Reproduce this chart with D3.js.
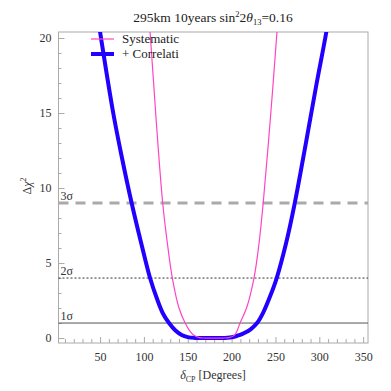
<!DOCTYPE html>
<html>
<head>
<meta charset="utf-8">
<script src="https://cdn.jsdelivr.net/npm/d3@7"></script>
<style>
  body { margin: 0; background: #fff; }
</style>
</head>
<body>
<script>
var width = 391;
var height = 391;
var margin = {top: 32, right: 23, bottom: 48, left: 58.5};

// values: [deltaCP (deg), delta chi^2]
var systematic = [
  [100, 25], [107, 20.4], [114, 14.5], [121.4, 9], [127, 6.2], [132.4, 4],
  [140, 2], [147, 1], [152, 0.5], [157, 0.18], [163, 0.03], [170, 0], [180, 0], [190, 0],
  [197, 0.03], [203, 0.18], [206, 0.45], [209.6, 1], [217, 2], [225.5, 4], [231, 6.2],
  [236, 9], [244, 14.5], [251.7, 20.4], [257, 25]
];
var correlated = [
  [38, 25], [50, 20.4], [65, 15], [75, 12], [86, 9], [97, 6.3], [107, 4],
  [115, 2.6], [122, 1.6], [128.6, 1], [136, 0.5], [143, 0.2], [150, 0.06], [158, 0.01],
  [170, 0], [180, 0], [192, 0.01], [202, 0.07], [209, 0.2], [215, 0.35], [222, 0.6],
  [229, 1], [236, 1.7], [244, 2.8], [251.4, 4], [262, 6.3], [272, 9], [285, 13.1],
  [297, 17], [308, 20.4], [318, 24]
];
var sigmaLevels = [1, 4, 9];
var sigmaLabels = ["1\u03c3", "2\u03c3", "3\u03c3"];
var xTicks = [50, 100, 150, 200, 250, 300, 350];
var yTicks = [0, 5, 10, 15, 20];
var legendNames = ["Systematic", "+ Correlati"];

var serif = "'Liberation Serif', 'Times New Roman', serif";

var x = d3.scaleLinear().domain([2.6, 355.5]).range([margin.left, width - margin.right]);
var y = d3.scaleLinear().domain([-0.33, 20.4]).range([height - margin.bottom, margin.top]);

var svg = d3.select("body").append("svg")
  .attr("width", width)
  .attr("height", height)
  .style("font-family", serif);

svg.append("defs").append("clipPath").attr("id", "clip")
  .append("rect")
  .attr("x", x.range()[0]).attr("y", y.range()[1])
  .attr("width", x.range()[1] - x.range()[0])
  .attr("height", y.range()[0] - y.range()[1]);

// frame
svg.append("rect")
  .attr("x", x.range()[0]).attr("y", y.range()[1])
  .attr("width", x.range()[1] - x.range()[0])
  .attr("height", y.range()[0] - y.range()[1])
  .attr("fill", "none").attr("stroke", "#aaa").attr("stroke-width", 1);

// x axis
var xAxis = d3.axisBottom(x).tickValues(d3.range(10, 360, 10)).tickSize(-4)
  .tickFormat(function(d) { return xTicks.indexOf(d) >= 0 ? d : ""; });
var gx = svg.append("g")
  .attr("transform", "translate(0," + y.range()[0] + ")")
  .call(xAxis)
  .attr("font-family", null).attr("font-size", 12);
gx.select(".domain").remove();
gx.selectAll(".tick line").attr("stroke", "#aaa");
gx.selectAll(".tick line").filter(function(d) { return xTicks.indexOf(d) >= 0; }).attr("y2", -6);
gx.selectAll(".tick text").attr("y", 9).attr("fill", "#333");

// y axis
var yAxis = d3.axisLeft(y).tickValues(d3.range(0, 21, 1)).tickSize(-3)
  .tickFormat(function(d) { return yTicks.indexOf(d) >= 0 ? d : ""; });
var gy = svg.append("g")
  .attr("transform", "translate(" + x.range()[0] + ",0)")
  .call(yAxis)
  .attr("font-family", null).attr("font-size", 12);
gy.select(".domain").remove();
gy.selectAll(".tick line").attr("stroke", "#aaa");
gy.selectAll(".tick line").filter(function(d) { return yTicks.indexOf(d) >= 0; }).attr("x2", 6);
gy.selectAll(".tick text").attr("x", -7).attr("fill", "#333");

// sigma lines
var sigmaStyle = [
  {stroke: "#555", width: 1, dash: null},
  {stroke: "#333", width: 1, dash: "2,2"},
  {stroke: "#aaa", width: 3, dash: "10,7"}
];
sigmaLevels.forEach(function(v, i) {
  svg.append("line")
    .attr("x1", x.range()[0]).attr("x2", x.range()[1])
    .attr("y1", y(v)).attr("y2", y(v))
    .attr("stroke", sigmaStyle[i].stroke)
    .attr("stroke-width", sigmaStyle[i].width)
    .attr("stroke-dasharray", sigmaStyle[i].dash);
  svg.append("text")
    .attr("x", x.range()[0] + 2).attr("y", y(v) - 3)
    .attr("fill", "#333").attr("font-size", 12)
    .text(sigmaLabels[i]);
});

var line = d3.line()
  .x(function(d) { return x(d[0]); })
  .y(function(d) { return y(d[1]); })
  .curve(d3.curveCatmullRom.alpha(0.5));

var plot = svg.append("g").attr("clip-path", "url(#clip)");
plot.append("path").datum(correlated)
  .attr("d", line).attr("fill", "none")
  .attr("stroke", "#2200ff").attr("stroke-width", 4);
plot.append("path").datum(systematic)
  .attr("d", line).attr("fill", "none")
  .attr("stroke", "#ff44c4").attr("stroke-width", 1.2);

// legend
var legendStyle = [
  {stroke: "#ff44c4", width: 1.2},
  {stroke: "#2200ff", width: 4}
];
legendNames.forEach(function(name, i) {
  var ly = 39 + i * 15;
  svg.append("line")
    .attr("x1", 91).attr("x2", 114)
    .attr("y1", ly).attr("y2", ly)
    .attr("stroke", legendStyle[i].stroke)
    .attr("stroke-width", legendStyle[i].width);
  svg.append("text")
    .attr("x", 122).attr("y", ly + 4)
    .attr("fill", "#222").attr("font-size", 13)
    .text(name);
});

// title
var title = svg.append("text")
  .attr("x", 213).attr("y", 22)
  .attr("text-anchor", "middle")
  .attr("fill", "#222").attr("font-size", 13.5);
title.append("tspan").text("295km 10years sin");
title.append("tspan").attr("dy", -5).attr("font-size", 8.5).text("2");
title.append("tspan").attr("dy", 5).text("2");
title.append("tspan").attr("font-style", "italic").text("\u03b8");
title.append("tspan").attr("dy", 3).attr("font-size", 8.5).text("13");
title.append("tspan").attr("dy", -3).text("=0.16");

// x label
var xl = svg.append("text")
  .attr("x", 213).attr("y", 379)
  .attr("text-anchor", "middle")
  .attr("fill", "#333").attr("font-size", 12);
xl.append("tspan").attr("font-style", "italic").text("\u03b4");
xl.append("tspan").attr("dy", 3).attr("font-size", 8).text("CP");
xl.append("tspan").attr("dy", -3).text(" [Degrees]");

// y label
var yl = svg.append("text")
  .attr("transform", "translate(31,186) rotate(-90)")
  .attr("text-anchor", "middle")
  .attr("fill", "#333").attr("font-size", 12);
yl.append("tspan").text("\u0394");
yl.append("tspan").attr("font-style", "italic").text("\u03c7");
yl.append("tspan").attr("dy", -5).attr("font-size", 8).text("2");
</script>
</body>
</html>
